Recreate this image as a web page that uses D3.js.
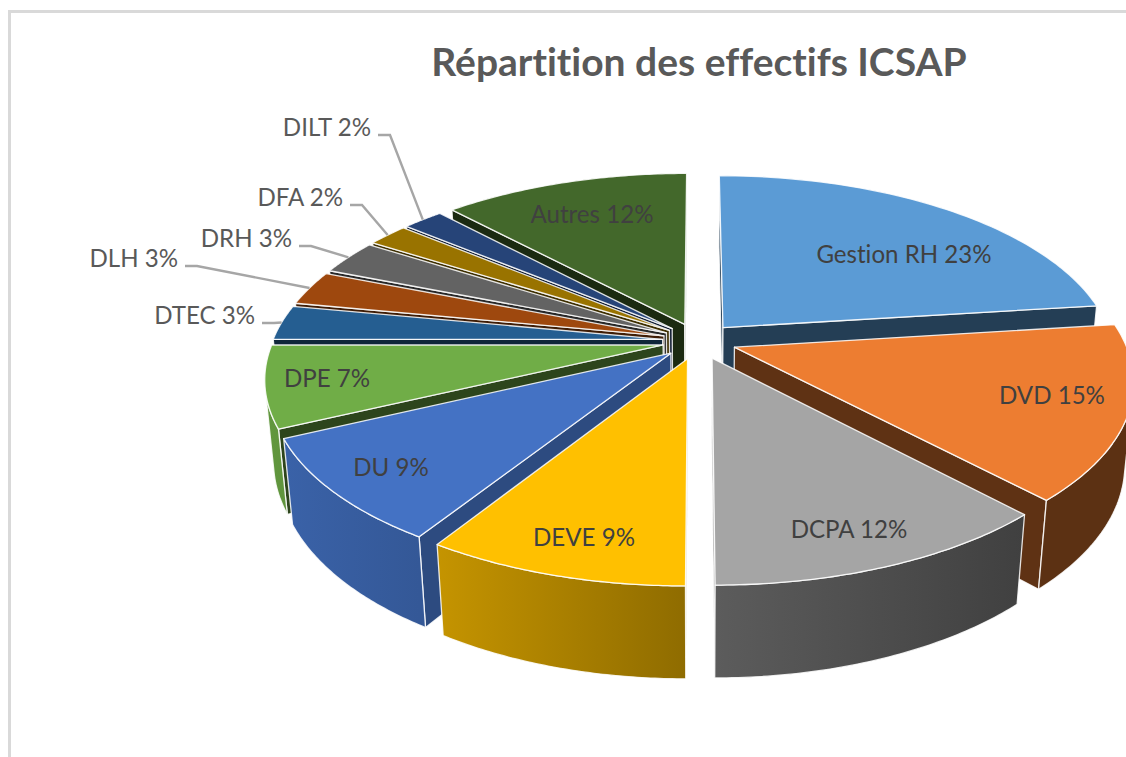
<!DOCTYPE html>
<html lang="fr">
<head>
<meta charset="utf-8">
<title>Répartition des effectifs ICSAP</title>
<script src="https://cdn.jsdelivr.net/npm/d3@7"></script>
<style>
  html, body { margin: 0; padding: 0; background: #fff; }
  svg { display: block; font-family: Lato, "Open Sans", sans-serif; font-variant-ligatures: none; }
  .face { stroke: #fff; stroke-opacity: 0.85; stroke-width: 1.3; stroke-linejoin: round; }
  .lead { fill: none; stroke: #a6a6a6; stroke-width: 2.4; }
  .lbl { fill: #404040; font-size: 24.1px; }
  .lbl.out { fill: #595959; }
</style>
</head>
<body>
<svg id="chart" width="1126" height="757"></svg>
<script>
const categories = ["Gestion RH", "DVD", "DCPA", "DEVE", "DU", "DPE", "DTEC", "DLH", "DRH", "DFA", "DILT", "Autres"];
const shares = [23, 15, 12, 9, 9, 7, 3, 3, 3, 2, 2, 12];
const colors = ["#5b9bd5", "#ed7d31", "#a5a5a5", "#ffc000", "#4472c4", "#70ad47",
                "#255e91", "#9e480e", "#636363", "#997300", "#264478", "#43682b"];

// where the text goes: inside = centre of the label, outside = right end + leader
const insideLabels = new Map([
  ["Gestion RH", [904, 263]], ["DVD", [1052, 404]], ["DCPA", [849, 538]], ["DEVE", [584, 546]],
  ["DU", [391, 476]], ["DPE", [327, 387]], ["Autres", [592, 223]]
]);
const outsideLabels = new Map([
  ["DILT", [371, 136]], ["DFA", [343, 206]], ["DRH", [292, 247]], ["DLH", [178, 267]], ["DTEC", [255, 324]]
]);

const svg = d3.select("#chart");

// camera of the 3D pie, fitted on the picture
const cx = 697.5, cy = 341;
const scaleX = 390, scaleZ = 181.8, persp = 0.17, persp2 = 0.02;
const thick = 82.4, explode = 0.1;

// x = right, z = back, h = 0 top face / 1 bottom face
function project(x, z, h) {
  const w = 1 + persp * z + persp2 * h;
  return [cx + scaleX * x / w, cy + (-scaleZ * z + thick * h) / w];
}

const pie = d3.pie().sort(null).value(d => d.value);
const slices = pie(categories.map((name, i) => ({ name, value: shares[i], color: colors[i] })))
  .map(d => {
    d.mid = (d.startAngle + d.endAngle) / 2;
    const sx = Math.sin(d.mid);
    // left half sits a bit closer to the centre in the original
    d.ox = explode * sx * (sx < 0 ? 0.9 : 1);
    d.oz = explode * Math.cos(d.mid);
    return d;
  });

const rimPoint = (d, a, h, r = 1) => project(d.ox + r * Math.sin(a), d.oz + r * Math.cos(a), h);
const apex = (d, h) => project(d.ox, d.oz, h);

// brightness of the walls along the pie, in degrees
const wallShade = d3.scaleLinear()
  .domain([0, 137, 180, 212, 245, 270, 360]).range([0.39, 0.39, 0.56, 0.77, 0.86, 0.9, 0.9]);
const sideShade = d3.scaleLinear()
  .domain([0, 190, 212, 235, 360]).range([0.4, 0.4, 0.66, 0.4, 0.4]);
const deg = a => a * 180 / Math.PI;

function shade(color, k) {
  const c = d3.rgb(color);
  return d3.rgb(c.r * k, c.g * k, c.b * k).formatHex();
}

const line = d3.line();
const closed = pts => line(pts) + "Z";
const defs = svg.append("defs");

// chart frame, only left and top are inside the crop
svg.append("path")
  .attr("d", "M9.5,757V11.5H1126")
  .attr("fill", "none").attr("stroke", "#d9d9d9").attr("stroke-width", 3);

svg.append("text")
  .attr("x", 699).attr("y", 76)
  .attr("text-anchor", "middle")
  .attr("font-size", 39).attr("font-weight", 700).attr("fill", "#595959")
  .text("Répartition des effectifs ICSAP");

// back slices first
const order = slices.slice().sort((a, b) => b.oz - a.oz);

order.forEach((d, i) => {
  const g = svg.append("g").attr("class", "slice");
  const steps = d3.range(0, 61).map(k => d.startAngle + (d.endAngle - d.startAngle) * k / 60);
  const color = d.data.color;

  // radial faces
  const startFace = [apex(d, 0), rimPoint(d, d.startAngle, 0), rimPoint(d, d.startAngle, 1), apex(d, 1)];
  const endFace = [rimPoint(d, d.endAngle, 0), apex(d, 0), apex(d, 1), rimPoint(d, d.endAngle, 1)];
  [[startFace, d.startAngle], [endFace, d.endAngle]].forEach(([pts, a]) => {
    if (d3.polygonArea(pts) > 0) {
      g.append("path").attr("class", "face")
        .attr("d", closed(pts))
        .attr("fill", shade(color, sideShade(deg(a))));
    }
  });

  // outer wall, only the part that looks at us
  const seen = d3.range(60).filter(k => d3.polygonArea([
    rimPoint(d, steps[k], 0), rimPoint(d, steps[k + 1], 0),
    rimPoint(d, steps[k + 1], 1), rimPoint(d, steps[k], 1)]) > 0);
  if (seen.length) {
    const from = seen[0], to = seen[seen.length - 1] + 1;
    const run = steps.slice(from, to + 1);
    const upper = run.map(a => rimPoint(d, a, 0));
    const lower = run.map(a => rimPoint(d, a, 1)).reverse();
    const gradId = "wall" + i;
    const grad = defs.append("linearGradient").attr("id", gradId)
      .attr("gradientUnits", "userSpaceOnUse")
      .attr("x1", upper[0][0]).attr("y1", 0)
      .attr("x2", upper[upper.length - 1][0]).attr("y2", 0);
    grad.append("stop").attr("offset", 0).attr("stop-color", shade(color, wallShade(deg(run[0]))));
    grad.append("stop").attr("offset", 1).attr("stop-color", shade(color, wallShade(deg(run[run.length - 1]))));
    g.append("path").attr("class", "face")
      .attr("d", closed(upper.concat(lower)))
      .attr("fill", `url(#${gradId})`);
  }

  // top
  g.append("path").attr("class", "face")
    .attr("d", closed([apex(d, 0)].concat(steps.map(a => rimPoint(d, a, 0)))))
    .attr("fill", color);
});

// labels
slices.forEach(d => {
  const text = `${d.data.name} ${d.data.value}%`;
  if (insideLabels.has(d.data.name)) {
    const [x, y] = insideLabels.get(d.data.name);
    svg.append("text").attr("class", "lbl").attr("x", x).attr("y", y)
      .attr("text-anchor", "middle").text(text);
  } else {
    const [x, y] = outsideLabels.get(d.data.name);
    svg.append("text").attr("class", "lbl out").attr("x", x).attr("y", y)
      .attr("text-anchor", "end").text(text);
    const end = rimPoint(d, d.mid, 0);
    svg.append("path").attr("class", "lead")
      .attr("d", line([[x + 7, y - 1], [x + 19, y - 1], end]));
  }
});
</script>
</body>
</html>
